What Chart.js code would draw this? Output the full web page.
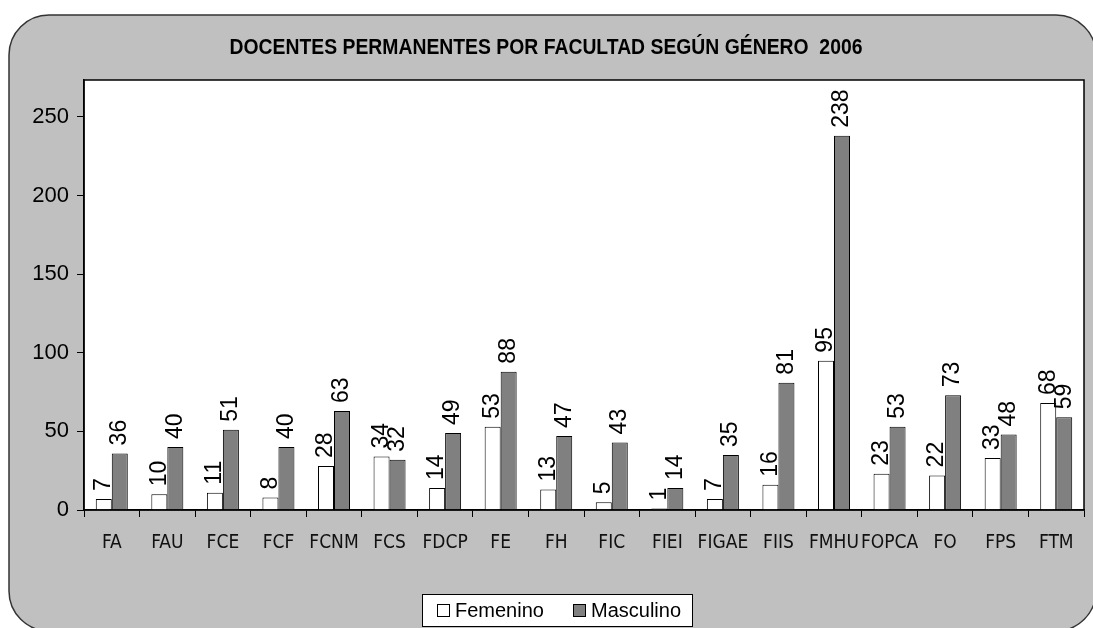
<!DOCTYPE html>
<html>
<head>
<meta charset="utf-8">
<script src="https://cdn.jsdelivr.net/npm/chart.js@4/dist/chart.umd.min.js"></script>
<style>
  html, body { margin: 0; padding: 0; background: #fff; }
  #wrap { width: 1093px; height: 628px; }
</style>
</head>
<body>
<div id="wrap"><canvas id="docentesChart" width="1093" height="628"></canvas></div>
<script>
const titulo = "DOCENTES PERMANENTES POR FACULTAD SEGÚN GÉNERO  2006";
const facultades = ["FA", "FAU", "FCE", "FCF", "FCNM", "FCS", "FDCP", "FE", "FH", "FIC", "FIEI", "FIGAE", "FIIS", "FMHU", "FOPCA", "FO", "FPS", "FTM"];
const femenino = [7, 10, 11, 8, 28, 34, 14, 53, 13, 5, 1, 7, 16, 95, 23, 22, 33, 68];
const masculino = [36, 40, 51, 40, 63, 32, 49, 88, 47, 43, 14, 35, 81, 238, 53, 73, 48, 59];
const yTicks = [0, 50, 100, 150, 200, 250];

// background frame, plot border, title, value labels, legend
const decor = {
    id: "decor",
    beforeDraw(chart) {
        const c = chart.ctx;
        c.save();
        c.fillStyle = "#fff";
        c.fillRect(0, 0, chart.width, chart.height);
        c.beginPath();
        c.roundRect(9, 15, 1087, 616, 40);
        c.fillStyle = "#c0c0c0";
        c.fill();
        c.lineWidth = 1.5;
        c.strokeStyle = "#333";
        c.stroke();
        const a = chart.chartArea;
        c.fillStyle = "#fff";
        c.fillRect(a.left, a.top, a.right - a.left, a.bottom - a.top);
        // narrow bold title
        c.fillStyle = "#000";
        c.font = "bold 22px 'Liberation Sans', Arial, sans-serif";
        c.textAlign = "center";
        c.textBaseline = "middle";
        c.translate(546, 48);
        c.scale(0.88, 1);
        c.fillText(titulo, 0, 0);
        c.restore();
    },
    afterDraw(chart) {
        const c = chart.ctx;
        const a = chart.chartArea;
        c.save();
        c.strokeStyle = "#000";
        c.lineWidth = 1.5;
        c.strokeRect(a.left, a.top, a.right - a.left, a.bottom - a.top);

        // rotated value labels
        c.fillStyle = "#000";
        c.font = "23px 'Liberation Sans', Arial, sans-serif";
        c.textAlign = "left";
        c.textBaseline = "middle";
        chart.data.datasets.forEach((ds, i) => {
            chart.getDatasetMeta(i).data.forEach((bar, j) => {
                c.save();
                c.translate(bar.x, bar.y - 8);
                c.rotate(-Math.PI / 2);
                c.fillText(String(ds.data[j]), 0, 0);
                c.restore();
            });
        });

        // legend box
        c.fillStyle = "#fff";
        c.fillRect(422, 594, 270, 32);
        c.strokeStyle = "#000";
        c.lineWidth = 1;
        c.strokeRect(422.5, 594.5, 270, 32);
        c.font = "20px 'Liberation Sans', Arial, sans-serif";
        const xs = [437, 573];
        chart.data.datasets.forEach((ds, i) => {
            c.fillStyle = ds.backgroundColor;
            c.fillRect(xs[i], 604, 13, 13);
            c.strokeStyle = "#000";
            c.strokeRect(xs[i] + 0.5, 604.5, 12, 12);
            c.fillStyle = "#000";
            c.fillText(ds.label, xs[i] + 18, 611);
        });
        c.restore();
    }
};

const ctx = document.getElementById("docentesChart").getContext("2d");
const docentesChart = new Chart(ctx, {
    type: "bar",
    data: {
        labels: facultades,
        datasets: [{
            label: "Femenino",
            data: femenino,
            backgroundColor: "#ffffff",
            borderColor: "#000",
            borderWidth: 1
        }, {
            label: "Masculino",
            data: masculino,
            backgroundColor: "#808080",
            borderColor: "#000",
            borderWidth: 1
        }]
    },
    options: {
        responsive: false,
        animation: false,
        layout: { padding: { left: 0, right: 9, top: 80, bottom: 0 } },
        datasets: { bar: { categoryPercentage: 0.576, barPercentage: 1 } },
        plugins: {
            legend: { display: false },
            title: { display: false },
            tooltip: { enabled: false }
        },
        scales: {
            x: {
                offset: true,
                grid: { offset: true, drawOnChartArea: false, color: "#000", tickLength: 7 },
                border: { color: "#000", width: 1.5 },
                ticks: {
                    color: "#111",
                    padding: 15,
                    maxRotation: 0,
                    autoSkip: false,
                    font: { family: "'DejaVu Sans Condensed', 'Liberation Sans', Arial", size: 19 }
                },
                afterFit(scale) { scale.height = 118; }
            },
            y: {
                min: 0,
                max: 273.5,
                grid: { drawOnChartArea: false, color: "#000", tickLength: 7 },
                border: { color: "#000", width: 1.5 },
                ticks: {
                    color: "#000",
                    padding: 8,
                    font: { family: "'Liberation Sans', Arial", size: 22 }
                },
                afterBuildTicks(scale) { scale.ticks = yTicks.map(v => ({ value: v })); },
                afterFit(scale) { scale.width = 84; }
            }
        }
    },
    plugins: [decor]
});
</script>
</body>
</html>
